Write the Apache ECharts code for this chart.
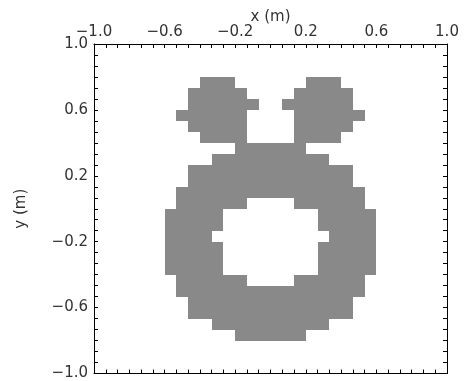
<!DOCTYPE html>
<html>
<head>
<meta charset="utf-8">
<script src="https://cdn.jsdelivr.net/npm/echarts@6/dist/echarts.min.js"></script>
<style>
  html, body { margin: 0; padding: 0; background: #fff; }
  #chart { width: 472px; height: 381px; }
</style>
</head>
<body>
<div id="chart"></div>
<script>
// 30 x 30 occupancy grid on [-1, 1] x [-1, 1]; each entry lists the filled
// column runs [first, last] of one grid row, top row first.
const gridSize = 30;
const xRange = [-1, 1];
const yRange = [-1, 1];
const tickLabels = [-1.0, -0.6, -0.2, 0.2, 0.6, 1.0];
const rowRuns = [
  [],
  [],
  [],
  [[9, 11], [18, 20]],
  [[8, 12], [17, 21]],
  [[8, 13], [16, 21]],
  [[7, 12], [17, 22]],
  [[8, 12], [17, 21]],
  [[9, 12], [17, 20]],
  [[12, 17]],
  [[10, 19]],
  [[8, 21]],
  [[8, 21]],
  [[7, 22]],
  [[7, 12], [17, 22]],
  [[6, 10], [19, 23]],
  [[6, 10], [19, 23]],
  [[6, 9], [20, 23]],
  [[6, 10], [19, 23]],
  [[6, 10], [19, 23]],
  [[6, 10], [19, 23]],
  [[7, 12], [17, 22]],
  [[7, 22]],
  [[8, 21]],
  [[8, 21]],
  [[10, 19]],
  [[12, 17]],
  [],
  [],
  []
];

const dx = (xRange[1] - xRange[0]) / gridSize;
const dy = (yRange[1] - yRange[0]) / gridSize;

// One rectangle per filled run: [xLeft, xRight, yTop, yBottom] in data units.
const cells = [];
rowRuns.forEach((runs, row) => {
  runs.forEach(([a, b]) => {
    cells.push([
      xRange[0] + a * dx,
      xRange[0] + (b + 1) * dx,
      yRange[1] - row * dy,
      yRange[1] - (row + 1) * dy
    ]);
  });
});

const fmt = v => {
  const s = Math.abs(v).toFixed(1);
  return v < -1e-9 ? '\u2212' + s : s;
};

const labelFont = { fontFamily: 'DejaVu Sans', fontSize: 15, color: '#333' };

function axisBase(extra) {
  return Object.assign({
    type: 'value',
    min: -1,
    max: 1,
    interval: 0.4,
    nameMoveOverlap: false,
    axisLine: { show: true, onZero: false, lineStyle: { color: '#000', width: 1 } },
    axisTick: { show: true, inside: true, length: 4, lineStyle: { color: '#000' } },
    minorTick: { show: true, splitNumber: 6, length: 4, lineStyle: { color: '#000' } },
    splitLine: { show: false },
    minorSplitLine: { show: false }
  }, extra);
}

const chart = echarts.init(document.getElementById('chart'), null, { renderer: 'canvas' });
chart.setOption({
  backgroundColor: '#fff',
  animation: false,
  grid: { left: 94, right: 25, top: 44, bottom: 7, containLabel: false },
  xAxis: [
    axisBase({
      position: 'top',
      name: 'x (m)',
      nameLocation: 'middle',
      nameGap: 19,
      nameTextStyle: labelFont,
      axisLabel: Object.assign({ show: true, margin: 4, formatter: fmt,
        customValues: tickLabels }, labelFont)
    }),
    axisBase({ position: 'bottom', axisLabel: { show: false } })
  ],
  yAxis: [
    axisBase({
      position: 'left',
      name: 'y (m)',
      nameLocation: 'middle',
      nameRotate: 90,
      nameGap: 65,
      nameTextStyle: labelFont,
      axisLabel: Object.assign({ show: true, margin: 6, formatter: fmt,
        customValues: tickLabels }, labelFont)
    }),
    axisBase({ position: 'right', axisLabel: { show: false } })
  ],
  series: [{
    type: 'custom',
    xAxisIndex: 0,
    yAxisIndex: 0,
    clip: true,
    data: cells,
    encode: { x: [0, 1], y: [2, 3] },
    renderItem: function (params, api) {
      const p0 = api.coord([api.value(0), api.value(2)]);
      const p1 = api.coord([api.value(1), api.value(3)]);
      // snap edges to whole pixels so neighbouring rows meet without seams
      const x0 = Math.round(p0[0]), y0 = Math.round(p0[1]);
      const x1 = Math.round(p1[0]), y1 = Math.round(p1[1]);
      return {
        type: 'rect',
        shape: { x: x0, y: y0, width: x1 - x0, height: y1 - y0 },
        style: { fill: '#898989' }
      };
    }
  }]
});
</script>
</body>
</html>
